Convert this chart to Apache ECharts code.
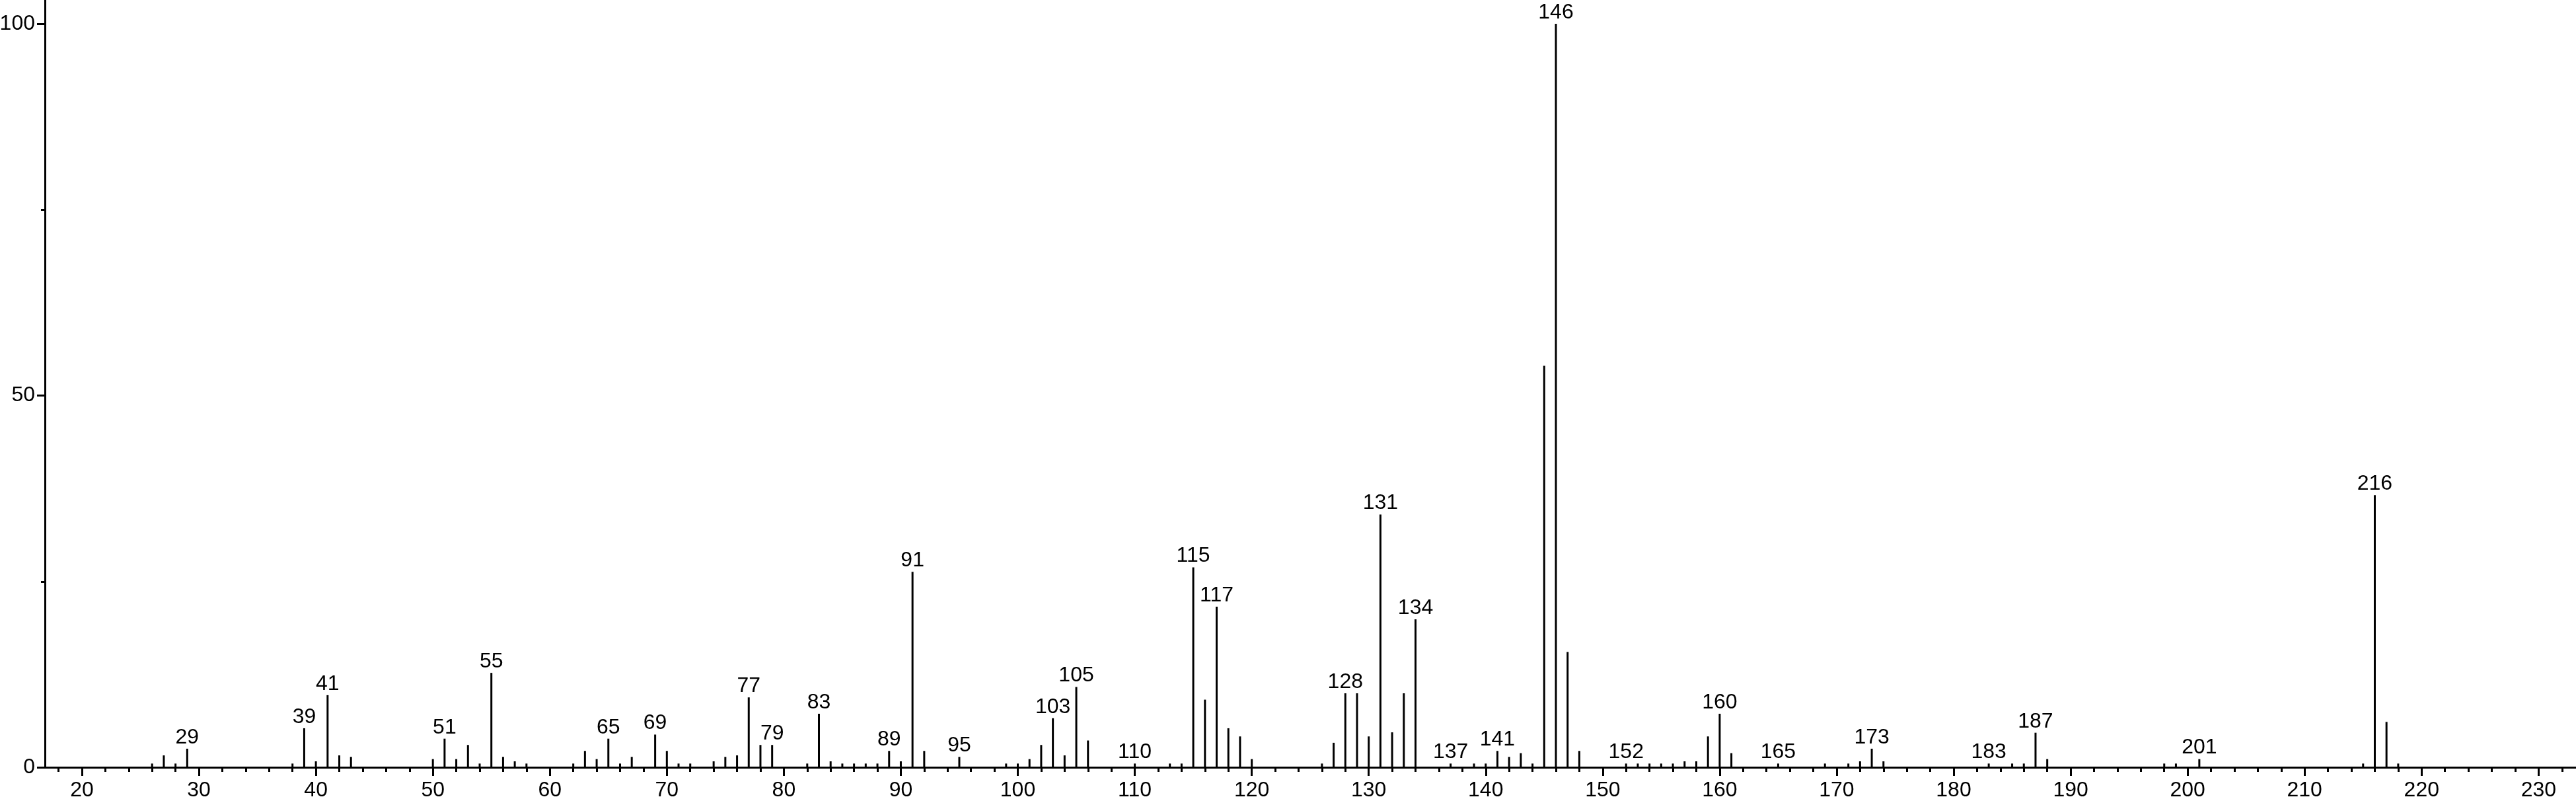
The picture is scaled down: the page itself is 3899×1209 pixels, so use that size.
<!DOCTYPE html>
<html>
<head>
<meta charset="utf-8">
<script src="https://cdn.jsdelivr.net/npm/echarts@6/dist/echarts.min.js"></script>
<style>
html,body{margin:0;padding:0;background:#fff;}
#chart{width:3899px;height:1209px;}
</style>
</head>
<body>
<div id="chart"></div>
<script>
// m/z values of the peaks
const mzValues = [26,27,28,29,38,39,40,41,42,43,50,51,52,53,54,55,56,57,58,62,63,64,65,66,67,69,70,71,72,74,75,76,77,78,79,82,83,84,85,86,87,88,89,90,91,92,95,99,100,101,102,103,104,105,106,110,113,114,115,116,117,118,119,120,126,127,128,129,130,131,132,133,134,137,139,140,141,142,143,144,145,146,147,148,152,153,154,155,156,157,158,159,160,161,165,169,171,172,173,174,183,185,186,187,188,198,199,201,215,216,217,218];
// relative intensities (%)
const intensities = [0.5,1.6,0.5,2.5,0.5,5.25,0.8,9.7,1.6,1.4,1.1,3.85,1.1,3.0,0.5,12.7,1.4,0.8,0.5,0.5,2.2,1.1,3.85,0.5,1.4,4.4,2.2,0.5,0.5,0.8,1.4,1.6,9.4,3.0,3.0,0.5,7.2,0.8,0.5,0.5,0.5,0.5,2.2,0.8,26.3,2.2,1.4,0.5,0.5,1.1,3.0,6.6,1.6,10.8,3.6,0.5,0.5,0.5,26.9,9.1,21.6,5.25,4.15,1.1,0.5,3.3,9.95,9.95,4.15,34.0,4.7,9.95,19.9,0.5,0.5,0.5,2.2,1.4,1.9,0.5,54.0,100,15.5,2.2,0.5,0.5,0.5,0.5,0.5,0.8,0.8,4.15,7.2,1.9,0.5,0.5,0.5,0.8,2.5,0.8,0.5,0.5,0.5,4.65,1.1,0.5,0.5,1.1,0.5,36.6,6.1,0.5];
// peaks that carry an m/z label
const labeledPeaks = [29,39,41,51,55,65,69,77,79,83,89,91,95,103,105,110,115,117,128,131,134,137,141,146,152,160,165,173,183,187,201,216];
// axis tick labels
const xTickLabels = [20,30,40,50,60,70,80,90,100,110,120,130,140,150,160,170,180,190,200,210,220,230];
const xMinorTicks = [];
for (let v = 18; v <= 232; v += 2) { if (v % 10 !== 0) xMinorTicks.push(v); }
const yTickLabels = [0,50,100];
const yMinorTicks = [25,75];

const FONT = '"Liberation Sans", Arial, Helvetica, sans-serif';
const XMIN = 16.837, XMAX = 233.2, YMAX = 103.2;

const seriesData = mzValues.map((mz, i) => {
  const item = { value: [mz, intensities[i]] };
  if (labeledPeaks.indexOf(mz) >= 0) {
    item.label = { show: true };
  }
  return item;
});

const chart = echarts.init(document.getElementById('chart'), null, { renderer: 'canvas' });
chart.setOption({
  animation: false,
  backgroundColor: '#ffffff',
  grid: { left: 68, right: 0, top: 0, bottom: 48, containLabel: false, outerBoundsMode: 'none' },
  xAxis: [
    {
      type: 'value', min: XMIN, max: XMAX, position: 'bottom',
      axisLine: { show: true, onZero: false, lineStyle: { color: '#000', width: 3 } },
      axisTick: { show: true, customValues: xTickLabels, length: 13, lineStyle: { color: '#000', width: 3 } },
      axisLabel: { show: true, customValues: xTickLabels, color: '#000', fontSize: 32, fontFamily: FONT, margin: 19 },
      splitLine: { show: false }
    },
    {
      type: 'value', min: XMIN, max: XMAX, position: 'bottom',
      axisLine: { show: false, onZero: false },
      axisTick: { show: true, customValues: xMinorTicks, length: 7, lineStyle: { color: '#000', width: 3 } },
      axisLabel: { show: false },
      splitLine: { show: false }
    }
  ],
  yAxis: [
    {
      type: 'value', min: 0, max: YMAX, position: 'left',
      axisLine: { show: true, onZero: false, lineStyle: { color: '#000', width: 3 } },
      axisTick: { show: true, customValues: yTickLabels, length: 12, lineStyle: { color: '#000', width: 3 } },
      axisLabel: { show: true, customValues: yTickLabels, color: '#000', fontSize: 32, fontFamily: FONT, margin: 15 },
      splitLine: { show: false }
    },
    {
      type: 'value', min: 0, max: YMAX, position: 'left',
      axisLine: { show: false, onZero: false },
      axisTick: { show: true, customValues: yMinorTicks, length: 6, lineStyle: { color: '#000', width: 3 } },
      axisLabel: { show: false },
      splitLine: { show: false }
    }
  ],
  series: [
    {
      type: 'bar', xAxisIndex: 0, yAxisIndex: 0,
      barWidth: 3,
      itemStyle: { color: '#000' },
      label: {
        show: false, position: 'top', distance: 1,
        color: '#000', fontSize: 32, fontFamily: FONT,
        formatter: p => String(p.value[0])
      },
      data: seriesData
    }
  ]
});
</script>
</body>
</html>
